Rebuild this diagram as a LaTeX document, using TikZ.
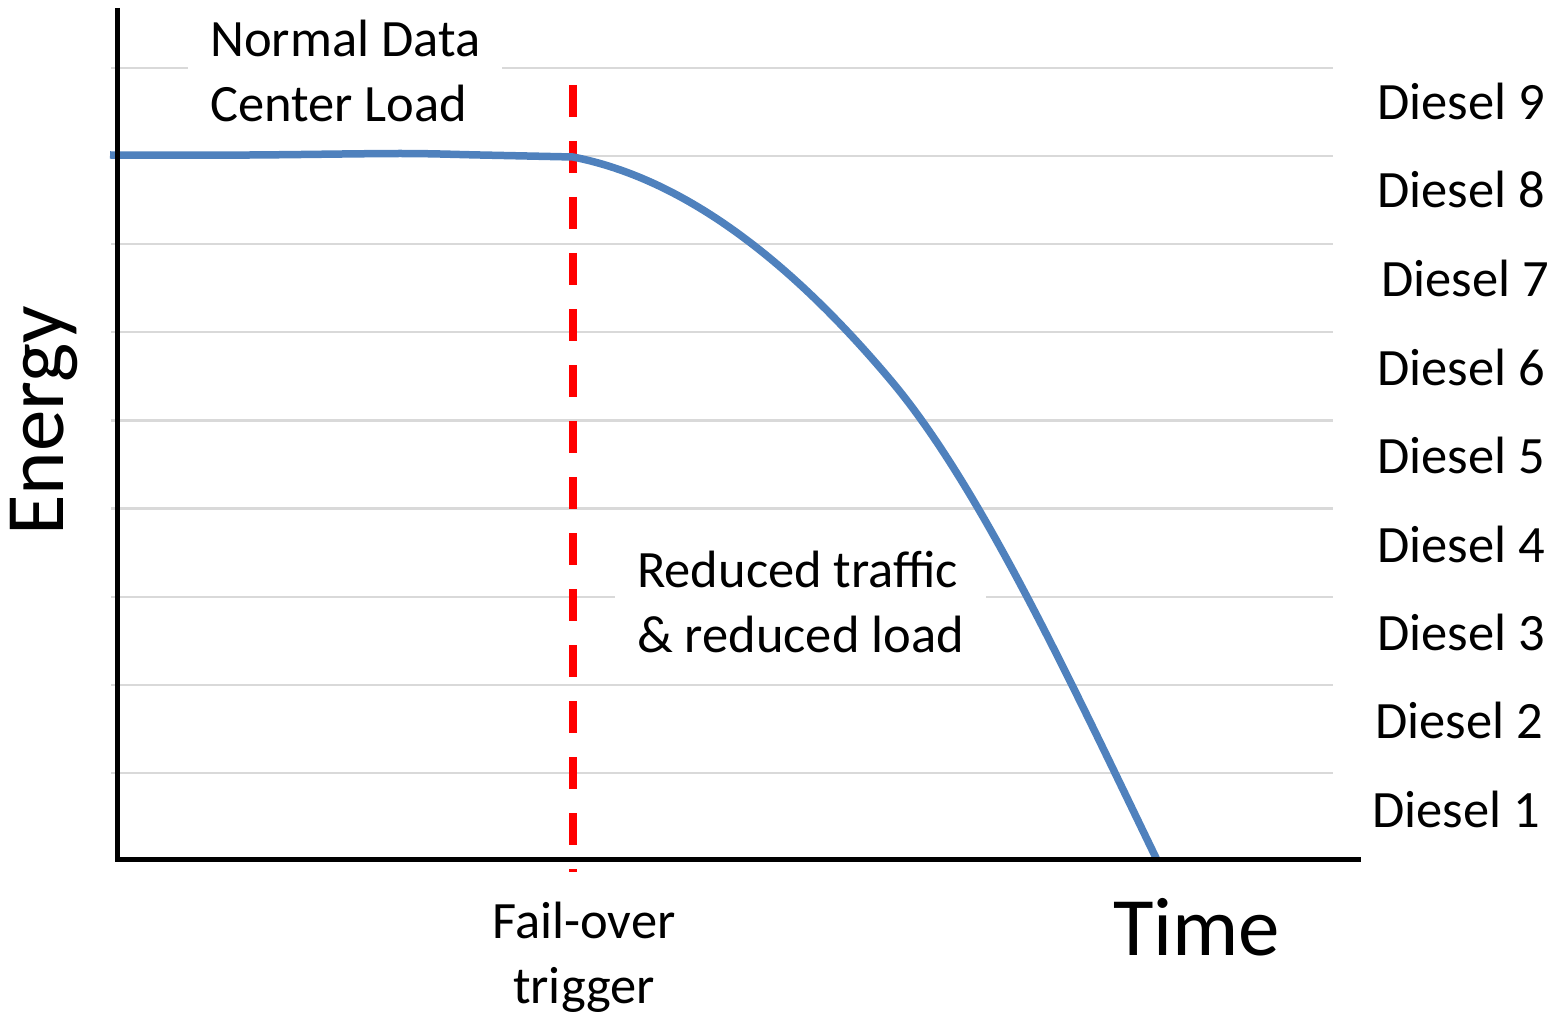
\documentclass[tikz,border=0pt]{standalone}
\usepackage{fontspec}
\setmainfont{Carlito}
\definecolor{curveblue}{HTML}{4F81BD}
\definecolor{gridgray}{HTML}{D9D9D9}
\begin{document}
\begin{tikzpicture}[x=1pt,y=-1pt,
  gridline/.style={draw=gridgray,line width=2.2pt},
  axisline/.style={draw=black,line width=5pt},
  lbl/.style={inner sep=0pt,font=\fontsize{52.5}{65}\selectfont},
  biglbl/.style={inner sep=0pt,font=\fontsize{83}{90}\selectfont},
  note/.style={lbl,align=left,fill=white,inner xsep=22pt,inner ysep=0pt},
  trig/.style={draw=red,line width=8pt,dash pattern=on 32pt off 24pt},
  load/.style={draw=curveblue,line width=7.5pt,line join=round}]
\useasboundingbox (0,0) rectangle (1557,1016);
% grid lines
\foreach \k in {0,...,8}{
  \draw[gridline] (111,68+88.1*\k) -- (1333,68+88.1*\k);
}
% diesel labels
\node[lbl,anchor=base west] (d9) at (1377,120) {Diesel 9};
\node[lbl,anchor=base west] (d8) at (1377,208) {Diesel 8};
\node[lbl,anchor=base west] (d7) at (1381,296) {Diesel 7};
\node[lbl,anchor=base west] (d6) at (1377,385) {Diesel 6};
\node[lbl,anchor=base west] (d5) at (1377,473) {Diesel 5};
\node[lbl,anchor=base west] (d4) at (1377,562) {Diesel 4};
\node[lbl,anchor=base west] (d3) at (1377,650) {Diesel 3};
\node[lbl,anchor=base west] (d2) at (1375,738) {Diesel 2};
\node[lbl,anchor=base west] (d1) at (1372,827) {Diesel 1};
% notes (anchor base = baseline of the last line)
\node[note,anchor=base west] (normal) at (188,122) {Normal Data\\Center Load};
\node[note,anchor=base west] (reduced) at (615,652) {Reduced traffic\\\& reduced load};
% trigger line
\coordinate (trigtop) at (573,85);
\coordinate (trigbot) at (573,872);
\draw[trig] (trigtop) -- (trigbot);
% load curve
\draw[load] plot[smooth,tension=0.5] coordinates {(110,155) (250,155) (400,153.5) (480,155) (573,157)}
  .. controls (680,178) and (786,255) .. (893,383)
  .. controls (981,489) and (1069,678) .. (1157,860);
% axes
\coordinate (ytop) at (117,8);
\coordinate (origin) at (117,859);
\coordinate (xend) at (1361,859);
\draw[axisline] (ytop) -- (origin) -- (xend);
% axis labels
\node[biglbl,anchor=base west] (time) at (1113,955) {Time};
\node[biglbl,anchor=base west,rotate=90] (energy) at (63,536) {Energy};
\node[lbl,align=center,anchor=base] (failover) at (584,1003) {Fail-over\\trigger};
\end{tikzpicture}
\end{document}
